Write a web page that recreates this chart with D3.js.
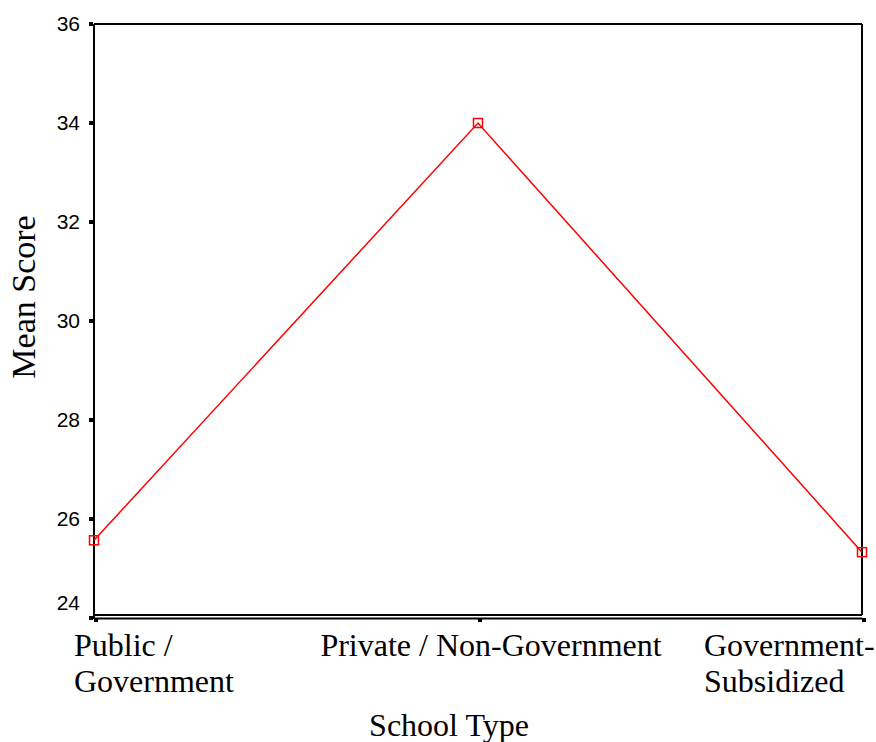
<!DOCTYPE html>
<html>
<head>
<meta charset="utf-8">
<script src="https://cdn.jsdelivr.net/npm/d3@7"></script>
<style>
  html, body { margin: 0; padding: 0; background: #fff; }
  svg { display: block; }
</style>
</head>
<body>
<svg id="chart" width="876" height="742"></svg>
<script>
// Mean score by school type
const categories = ["Public / Government", "Private / Non-Government", "Government-Subsidized"];
const categoryLines = [["Public /", "Government"], ["Private / Non-Government"], ["Government-", "Subsidized"]];
const meanScores = [25.57, 34.0, 25.33];
const yTicks = [24, 26, 28, 30, 32, 34, 36];
const yTitle = "Mean Score";
const xTitle = "School Type";

const svg = d3.select("#chart");
const plotLeft = 94, plotRight = 862, plotTop = 24, plotBottom = 618;

const x = d3.scalePoint().domain(categories).range([plotLeft, plotRight]).padding(0);
const y = d3.scaleLinear().domain([24, 36]).range([plotBottom, plotTop]);

const serif = "'Liberation Serif', 'Times New Roman', serif";
const sans = "'Liberation Sans', Arial, sans-serif";

// Frame: left, top and right edges, and a double rule along the bottom
const frame = svg.append("g").attr("stroke", "#000").attr("fill", "none");
frame.append("line").attr("x1", plotLeft).attr("x2", plotLeft).attr("y1", plotTop).attr("y2", plotBottom + 1).attr("stroke-width", 2);
frame.append("line").attr("x1", plotLeft).attr("x2", plotRight).attr("y1", plotTop).attr("y2", plotTop).attr("stroke-width", 2);
frame.append("line").attr("x1", plotRight).attr("x2", plotRight).attr("y1", plotTop).attr("y2", plotBottom - 3).attr("stroke-width", 2);
frame.append("line").attr("x1", plotLeft).attr("x2", plotRight).attr("y1", plotBottom - 3).attr("y2", plotBottom - 3).attr("stroke-width", 2);
frame.append("line").attr("x1", plotLeft).attr("x2", plotRight).attr("y1", plotBottom + 0.5).attr("y2", plotBottom + 0.5).attr("stroke-width", 2);

// Y axis labels (the lowest one sits a little above its tick)
const yAxis = svg.append("g")
  .attr("transform", `translate(${plotLeft},0)`)
  .call(d3.axisLeft(y).tickValues(yTicks).tickSize(0).tickPadding(14).tickFormat(d3.format("d")));
yAxis.select(".domain").remove();
yAxis.selectAll("text")
  .attr("font-family", sans).attr("font-size", 21).attr("fill", "#000");
yAxis.selectAll(".tick").filter(d => d === yTicks[0]).select("text")
  .attr("dy", "-0.4em");

// Square tick marks
svg.append("g").selectAll("rect").data(yTicks).join("rect")
  .attr("x", plotLeft - 5).attr("y", d => y(d) - 2).attr("width", 4).attr("height", 4).attr("fill", "#000");
svg.append("g").selectAll("rect").data(categories).join("rect")
  .attr("x", d => x(d)).attr("y", plotBottom).attr("width", 4).attr("height", 4).attr("fill", "#000");

// Category labels
const lineH = 36;
const labelG = svg.append("g").attr("font-family", serif).attr("font-size", 32).attr("fill", "#000");
categories.forEach((c, i) => {
  const t = labelG.append("text");
  let xPos, anchor;
  if (i === 0) { xPos = x(c) - 20; anchor = "start"; }
  else if (i === categories.length - 1) { xPos = x(c) - 158; anchor = "start"; }
  else { xPos = x(c) + 13; anchor = "middle"; }
  t.attr("text-anchor", anchor);
  categoryLines[i].forEach((ln, j) => {
    t.append("tspan").attr("x", xPos).attr("y", 656 + j * lineH).text(ln);
  });
});

// Axis titles
svg.append("text")
  .attr("x", 449).attr("y", 736)
  .attr("text-anchor", "middle")
  .attr("font-family", serif).attr("font-size", 32).attr("fill", "#000")
  .text(xTitle);
svg.append("text")
  .attr("transform", `translate(35,297) rotate(-90)`)
  .attr("text-anchor", "middle")
  .attr("font-family", serif).attr("font-size", 34).attr("fill", "#000")
  .text(yTitle);

// Mean line with open square markers
const pts = categories.map((c, i) => ({ c, v: meanScores[i] }));
svg.append("path")
  .datum(pts)
  .attr("fill", "none").attr("stroke", "#ff0000").attr("stroke-width", 1.5)
  .attr("d", d3.line().x(d => x(d.c)).y(d => y(d.v)));
svg.append("g").selectAll("rect").data(pts).join("rect")
  .attr("x", d => x(d.c) - 4.5).attr("y", d => y(d.v) - 4.5)
  .attr("width", 9).attr("height", 9)
  .attr("fill", "none").attr("stroke", "#ff0000").attr("stroke-width", 1.5);
</script>
</body>
</html>
